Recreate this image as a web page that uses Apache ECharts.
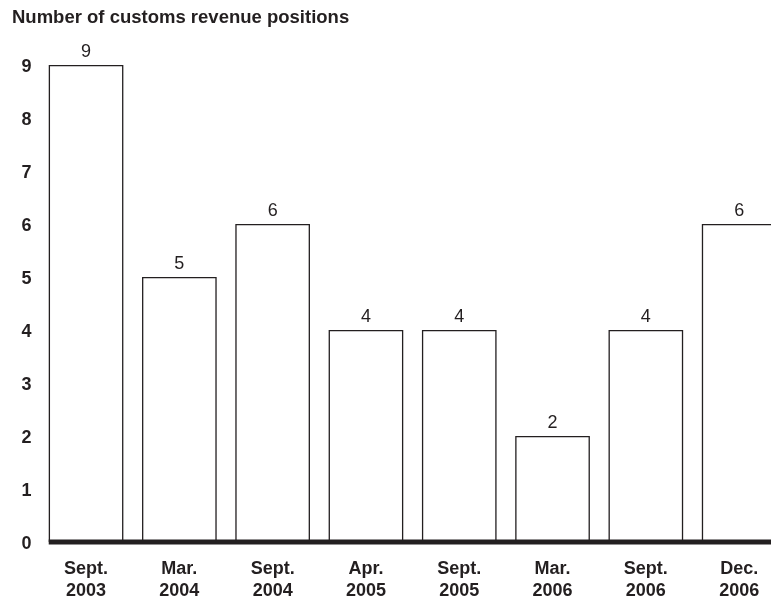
<!DOCTYPE html>
<html>
<head>
<meta charset="utf-8">
<script src="https://cdn.jsdelivr.net/npm/echarts@6/dist/echarts.min.js"></script>
<style>
  html, body { margin: 0; padding: 0; background: #fff; }
  #main { width: 771px; height: 602px; }
</style>
</head>
<body>
<div id="main"></div>
<script>
// data
var categories = ['Sept.\n2003', 'Mar.\n2004', 'Sept.\n2004', 'Apr.\n2005',
                  'Sept.\n2005', 'Mar.\n2006', 'Sept.\n2006', 'Dec.\n2006'];
var positions = [9, 5, 6, 4, 4, 2, 4, 6];

var FONT = '"Liberation Sans", Arial, Helvetica, sans-serif';
var INK = '#231f20';

var myChart = echarts.init(document.getElementById('main'));

var option = {
    animation: false,
    title: {
        text: 'Number of customs revenue positions',
        left: 12,
        top: 8,
        padding: 0,
        textStyle: { fontFamily: FONT, fontSize: 18.5, fontWeight: 'bold', color: INK }
    },
    grid: {
        left: 39.4,
        width: 746.4,
        top: 65,
        bottom: 60,
        outerBoundsMode: 'none',
        containLabel: false
    },
    xAxis: {
        type: 'category',
        data: categories,
        axisLine: { show: false },
        axisTick: { show: false },
        axisLabel: {
            interval: 0,
            margin: 16,
            fontFamily: FONT,
            fontSize: 18,
            fontWeight: 'bold',
            lineHeight: 22,
            color: INK
        }
    },
    yAxis: {
        type: 'value',
        min: 0,
        max: 9,
        interval: 1,
        axisLine: { show: false },
        axisTick: { show: false },
        splitLine: { show: false },
        axisLabel: {
            margin: 8,
            formatter: '{v|{value}}',
            rich: {
                v: {
                    fontFamily: FONT,
                    fontSize: 18,
                    fontWeight: 'bold',
                    color: INK,
                    padding: [5, 0, 0, 0]
                }
            }
        }
    },
    series: [{
        name: 'positions',
        type: 'bar',
        data: positions,
        barCategoryGap: '20%',
        itemStyle: { color: '#fff', borderColor: INK, borderWidth: 1.3 },
        label: {
            show: true,
            position: 'top',
            distance: 4,
            fontFamily: FONT,
            fontSize: 18,
            color: INK
        }
    }]
};
myChart.setOption(option);

// thick baseline, starting at the left edge of the first bar
var origin = myChart.convertToPixel({ xAxisIndex: 0, yAxisIndex: 0 }, [0, 0]);
var next = myChart.convertToPixel({ xAxisIndex: 0, yAxisIndex: 0 }, [1, 0]);
var band = next[0] - origin[0];
myChart.setOption({
    graphic: [{
        type: 'line',
        z: 100,
        shape: { x1: origin[0] - band * 0.4, y1: origin[1], x2: 771, y2: origin[1] },
        style: { stroke: INK, lineWidth: 5 }
    }]
});
</script>
</body>
</html>
